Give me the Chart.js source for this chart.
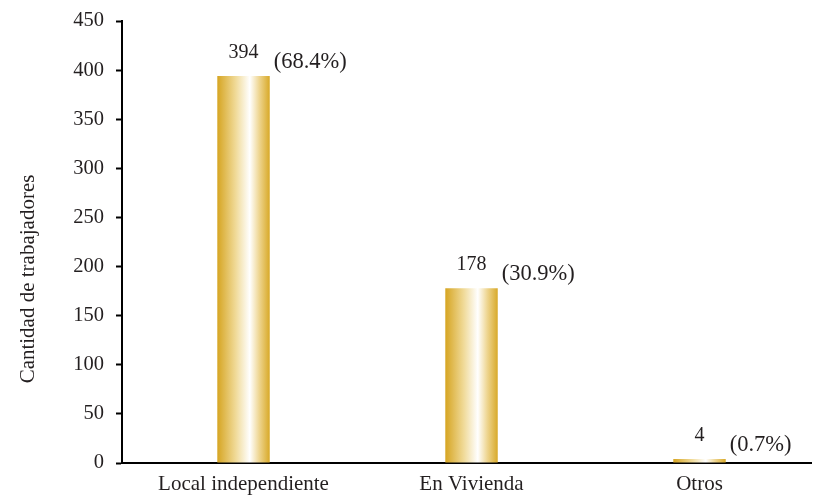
<!DOCTYPE html>
<html>
<head>
<meta charset="utf-8">
<script src="https://cdn.jsdelivr.net/npm/chart.js@4.4.0/dist/chart.umd.min.js"></script>
<style>
  html, body { margin: 0; padding: 0; background: #fff; }
  #wrap { width: 814px; height: 495px; }
</style>
</head>
<body>
<div id="wrap"><canvas id="chart"></canvas></div>
<script>
const categories = ["Local independiente", "En Vivienda", "Otros"];
const workers = [394, 178, 4];
const shares = ["(68.4%)", "(30.9%)", "(0.7%)"];
const yTicks = [0, 50, 100, 150, 200, 250, 300, 350, 400, 450];
const yTitle = "Cantidad de trabajadores";

const FONT = "'Liberation Serif', 'Times New Roman', serif";
const TEXT = "#231f20";
const BAR_PCT = 0.23;

// category axis whose bands sit a little right of the plain layout
class NudgedCategory extends Chart.CategoryScale {
  buildTicks() {
    const ticks = super.buildTicks();
    this._startValue -= 0.033;
    this._valueRange += 0.022;
    return ticks;
  }
}
NudgedCategory.id = "nudgedCategory";
NudgedCategory.defaults = Chart.CategoryScale.defaults;
Chart.register(NudgedCategory);

// gold -> white -> gold, across each bar
function barFill(ctx) {
  const chart = ctx.chart;
  const xs = chart.scales.x;
  if (!chart.chartArea || !xs) return "#d9aa2c";
  const cx = xs.getPixelForValue(ctx.dataIndex);
  const step = xs.getPixelForValue(1) - xs.getPixelForValue(0);
  const half = step * BAR_PCT / 2;
  const g = chart.ctx.createLinearGradient(cx - half, 0, cx + half, 0);
  g.addColorStop(0, "#d6a522");
  g.addColorStop(0.35, "#f0da98");
  g.addColorStop(0.62, "#ffffff");
  g.addColorStop(0.8, "#eed590");
  g.addColorStop(1, "#d8a928");
  return g;
}

const barLabels = {
  id: "barLabels",
  afterDatasetsDraw(chart) {
    const c = chart.ctx;
    const meta = chart.getDatasetMeta(0);
    c.save();
    c.fillStyle = TEXT;
    c.textBaseline = "middle";
    meta.data.forEach((bar, i) => {
      c.font = "20px " + FONT;
      c.textAlign = "center";
      c.fillText(String(workers[i]), bar.x, bar.y - 23);
      c.font = "22.5px " + FONT;
      c.textAlign = "left";
      c.fillText(shares[i], bar.x + bar.width / 2 + 4, bar.y - 14);
    });
    // y axis title
    c.font = "21px " + FONT;
    c.textAlign = "center";
    c.translate(28, 279);
    c.rotate(-Math.PI / 2);
    c.fillText(yTitle, 0, 0);
    c.restore();
  }
};

new Chart(document.getElementById("chart").getContext("2d"), {
  type: "bar",
  data: {
    labels: categories,
    datasets: [{
      data: workers,
      backgroundColor: barFill,
      borderWidth: 0,
      barPercentage: 1,
      categoryPercentage: BAR_PCT
    }]
  },
  options: {
    responsive: true,
    maintainAspectRatio: false,
    animation: false,
    layout: { padding: { top: 21, right: 3, left: 0, bottom: 0 } },
    plugins: {
      legend: { display: false },
      tooltip: { enabled: false }
    },
    scales: {
      x: {
        type: "nudgedCategory",
        grid: { display: false, drawTicks: false },
        border: { color: "#000", width: 2 },
        ticks: { color: TEXT, font: { family: FONT, size: 21 }, padding: 9, maxRotation: 0 },
        afterFit: s => { s.height = 32; }
      },
      y: {
        min: 0,
        max: 450,
        afterBuildTicks: s => { s.ticks = yTicks.map(v => ({ value: v })); },
        grid: { drawOnChartArea: false, drawTicks: true, tickLength: 6, tickColor: "#000", tickWidth: 2 },
        border: { color: "#000", width: 2 },
        ticks: { color: TEXT, font: { family: FONT, size: 20.5 }, padding: 12 },
        afterFit: s => { s.width = 122; s.paddingTop = 0; s.paddingBottom = 0; }
      }
    }
  },
  plugins: [barLabels]
});
</script>
</body>
</html>
